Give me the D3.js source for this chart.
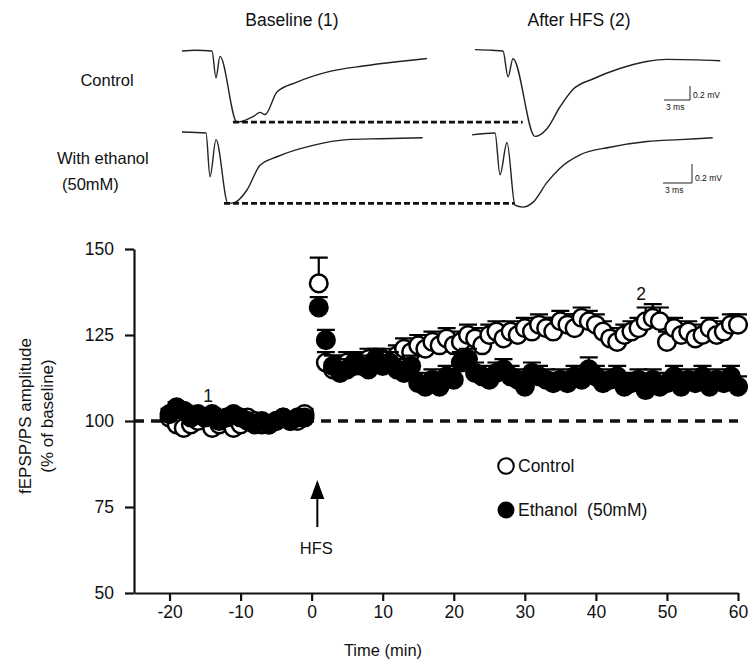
<!DOCTYPE html>
<html>
<head>
<meta charset="utf-8">
<script src="https://cdn.jsdelivr.net/npm/d3@7"></script>
<style>
  html, body { margin: 0; padding: 0; background: #fff; }
  svg { display: block; font-family: "Liberation Sans", Arial, sans-serif; }
</style>
</head>
<body>
<div id="chart"></div>
<script>
// LTP 时间过程 + 代表性记录

// 时间点 (min)
const baselineTimes = d3.range(-20, 0);
const postTimes = d3.range(1, 61);

// 对照组 (空心) - 幅值 % baseline
const controlBase = [101, 99, 98, 99, 100, 101, 98, 99, 100, 98, 99, 101, 100, 99, 99, 100, 101, 100, 100, 102];
const controlPost = [140, 117, 115, 116, 117, 116, 117, 118, 117, 118,
                     117, 119, 121, 120, 122, 121, 123, 122, 124, 122,
                     123, 125, 124, 122, 125, 126, 124, 126, 125, 127,
                     126, 128, 127, 126, 129, 128, 127, 130, 129, 128,
                     126, 124, 123, 125, 126, 127, 129, 130, 129, 123,
                     127, 125, 126, 124, 125, 127, 125, 126, 128, 128];
const controlErr = [7.5, 3, 3, 3, 3, 3, 3, 3, 3, 3,
                    3, 3, 3, 3, 3, 3, 3, 3, 3, 3,
                    3, 3, 3, 3, 3, 3, 3, 3, 3, 3,
                    3, 3, 3, 4, 3, 3, 4, 3, 3, 3,
                    3, 3, 3, 3, 3, 3, 4, 4, 4, 3,
                    3, 3, 3, 3, 3, 3, 3, 3, 3, 3];

// 乙醇组 (实心)
const ethanolBase = [102, 104, 103, 101, 102, 101, 102, 100, 101, 102, 101, 100, 99, 100, 99, 100, 101, 100, 101, 101];
const ethanolPost = [133, 123.5, 116, 114, 115, 117, 116, 115, 118, 116,
                     117, 115, 114, 116, 111, 110, 112, 110, 113, 112,
                     117, 118, 114, 113, 112, 114, 115, 113, 112, 110,
                     114, 113, 112, 111, 112, 111, 113, 112, 115, 113,
                     111, 112, 113, 110, 111, 112, 109, 112, 110, 111,
                     113, 110, 112, 111, 113, 110, 112, 111, 113, 110];
const ethanolErr = [3, 3, 3, 3, 3, 3, 3, 3, 3, 3,
                    3, 3, 3, 3, 3, 3, 3, 3, 3, 3,
                    3, 3, 3, 3, 3, 3, 3, 3, 3, 3,
                    3, 3, 3, 3, 3, 3, 3, 3, 3.5, 3,
                    3, 3, 3, 3, 3, 3, 3, 3, 3, 3,
                    3, 3, 3, 3, 3, 3, 3, 3, 3, 3];

const xTicks = [-20, -10, 0, 10, 20, 30, 40, 50, 60];
const yTicks = [50, 75, 100, 125, 150];

// 代表性记录 [ms, mV]
const ctrlBaseTrace = [[0, 0], [1.5, 0.01], [3.46, 0], [3.92, -0.385], [4.38, -0.077], [6.34, -1.015],
  [8.3, -0.93], [9.0, -0.877], [9.57, -0.908], [10.96, -0.585], [13.26, -0.446], [17.07, -0.292],
  [20.88, -0.215], [24.8, -0.154], [28.26, -0.108]];
const ctrlHfsTrace = [[0, 0.02], [2, 0.01], [3.23, 0], [3.81, -0.37], [4.38, -0.11], [6.92, -1.22],
  [8.3, -1.11], [9.8, -0.8], [11.3, -0.55], [13.6, -0.4], [16.7, -0.25], [19.8, -0.15],
  [22.1, -0.12], [28.3, -0.14]];
const ethBaseTrace = [[0, 0.01], [2.48, 0], [2.9, -0.46], [3.52, -0.07], [4.76, -0.74], [5.48, -0.73],
  [6.72, -0.6], [8.07, -0.34], [9.82, -0.25], [13.55, -0.13], [17.06, -0.07], [20.5, -0.06], [24.9, -0.05]];
const ethHfsTrace = [[0, -0.02], [2.38, 0], [2.9, -0.44], [3.62, -0.1], [4.45, -0.76], [5.27, -0.78],
  [6.3, -0.73], [7.76, -0.52], [9.1, -0.37], [11.17, -0.23], [14.27, -0.15], [18.1, -0.09],
  [21.5, -0.07], [24.9, -0.05]];

const W = 748, H = 664;
const svg = d3.select('#chart').append('svg')
    .attr('width', W)
    .attr('height', H);

// ---------- 上部: 记录 ----------
const txt = (x, y, s, size, anchor) => svg.append('text')
    .attr('x', x).attr('y', y)
    .attr('font-size', size)
    .attr('text-anchor', anchor || 'middle')
    .attr('fill', '#111')
    .text(s);

txt(292, 26, 'Baseline (1)', 17.5);
txt(579, 26, 'After HFS (2)', 17.5);
txt(107, 86, 'Control', 16.5);
txt(57, 164, 'With ethanol', 16.5, 'start');
txt(62, 190, '(50mM)', 16.5, 'start');

// 每行的比例 (px/ms, px/mV 与标尺一致)
const rows = [
    { y0: 51, pxMs: 26 / 3, pxMv: 14 / 0.2, traces: [ctrlBaseTrace, ctrlHfsTrace], starts: [182, 475],
      dashEnd: 5.5, bar: { x: 690, y: 100 } },
    { y0: 133, pxMs: 29 / 3, pxMv: 19 / 0.2, traces: [ethBaseTrace, ethHfsTrace], starts: [182, 472],
      dashEnd: 4.4, bar: { x: 692, y: 183 } }
];

rows.forEach(r => {
    const scales = r.starts.map(x0 => ({
        x: d3.scaleLinear().domain([0, 1]).range([x0, x0 + r.pxMs]),
        y: d3.scaleLinear().domain([0, 1]).range([r.y0, r.y0 - r.pxMv])
    }));
    r.traces.forEach((tr, i) => {
        const sx = scales[i].x, sy = scales[i].y;
        svg.append('path')
            .datum(tr)
            .attr('fill', 'none')
            .attr('stroke', '#222')
            .attr('stroke-width', 1.4)
            .attr('d', d3.line().x(d => sx(d[0])).y(d => sy(d[1])).curve(d3.curveMonotoneX));
    });
    // 虚线: 基线记录最低点 -> HFS 后记录
    const minPt = d3.least(r.traces[0], d => d[1]);
    svg.append('line')
        .attr('x1', scales[0].x(minPt[0]) - 4)
        .attr('x2', scales[1].x(r.dashEnd))
        .attr('y1', scales[0].y(minPt[1]))
        .attr('y2', scales[0].y(minPt[1]))
        .attr('stroke', '#111')
        .attr('stroke-width', 2.8)
        .attr('stroke-dasharray', '6,3');
    // 标尺 0.2 mV / 3 ms
    const bx = r.bar.x, by = r.bar.y;
    const hLen = 3 * r.pxMs, vLen = 0.2 * r.pxMv;
    svg.append('path')
        .attr('d', `M${bx - hLen},${by}H${bx}V${by - vLen}`)
        .attr('fill', 'none')
        .attr('stroke', '#222')
        .attr('stroke-width', 1);
    txt(bx + 3, by - 2, '0.2 mV', 8.5, 'start');
    txt(bx - hLen + 2, by + 10, '3 ms', 8.5, 'start');
});

// ---------- 下部: 时间过程 ----------
const x = d3.scaleLinear().domain([-25, 60]).range([134, 738]);
const y = d3.scaleLinear().domain([50, 150]).range([593, 249]);

const gx = svg.append('g')
    .attr('transform', `translate(0,${y(50)})`)
    .call(d3.axisBottom(x).tickValues(xTicks).tickFormat(d => String(d))
        .tickSize(8).tickPadding(5).tickSizeOuter(0));
const gy = svg.append('g')
    .attr('transform', `translate(${x(-25)},0)`)
    .call(d3.axisLeft(y).tickValues(yTicks).tickFormat(d => String(d))
        .tickSize(9).tickPadding(11).tickSizeOuter(0));

[gx, gy].forEach(g => {
    g.select('.domain').attr('stroke', '#111').attr('stroke-width', 2.2);
    g.selectAll('.tick line').attr('stroke', '#111').attr('stroke-width', 2.2);
    g.selectAll('.tick text')
        .attr('font-size', 17.5)
        .attr('fill', '#111')
        .attr('font-family', '"Liberation Sans", Arial, sans-serif');
});

txt(383, 656, 'Time (min)', 16.5);
svg.append('text')
    .attr('transform', 'translate(31,416) rotate(-90)')
    .attr('text-anchor', 'middle')
    .attr('font-size', 17)
    .attr('fill', '#111')
    .text('fEPSP/PS amplitude');
svg.append('text')
    .attr('transform', 'translate(53,416) rotate(-90)')
    .attr('text-anchor', 'middle')
    .attr('font-size', 17)
    .attr('fill', '#111')
    .text('(% of baseline)');

// 100% 参考虚线
svg.append('line')
    .attr('x1', x(-25)).attr('x2', x(60))
    .attr('y1', y(100)).attr('y2', y(100))
    .attr('stroke', '#111')
    .attr('stroke-width', 3.5)
    .attr('stroke-dasharray', '10,7');

// 组装数据
function series(base, post, err) {
    return baselineTimes.map((t, i) => ({ t, v: base[i], e: 1.5 }))
        .concat(postTimes.map((t, i) => ({ t, v: post[i], e: err[i] })));
}
const controlData = series(controlBase, controlPost, controlErr);
const ethanolData = series(ethanolBase, ethanolPost, ethanolErr);

function drawSeries(data, filled) {
    const g = svg.append('g');
    const cap = 9;
    g.selectAll('.err')
        .data(data)
        .enter()
        .append('path')
        .attr('class', 'err')
        .attr('d', d => `M${x(d.t)},${y(d.v)}V${y(d.v + d.e)}M${x(d.t) - cap},${y(d.v + d.e)}H${x(d.t) + cap}`)
        .attr('fill', 'none')
        .attr('stroke', '#000')
        .attr('stroke-width', 2.2);
    g.selectAll('.pt')
        .data(data)
        .enter()
        .append('circle')
        .attr('class', 'pt')
        .attr('cx', d => x(d.t))
        .attr('cy', d => y(d.v))
        .attr('r', 8.8)
        .attr('fill', filled ? '#000' : '#fff')
        .attr('stroke', '#000')
        .attr('stroke-width', 2.5);
}
drawSeries(controlData, false);
drawSeries(ethanolData, true);

// 标注
txt(208, 402, '1', 17.5);
txt(641, 300, '2', 17.5);

// HFS 箭头
const ax = x(0.8);
svg.append('path')
    .attr('d', `M${ax},${497}V${527}`)
    .attr('stroke', '#000')
    .attr('stroke-width', 2);
svg.append('path')
    .attr('d', `M${ax},${480}L${ax - 7},${499}L${ax + 7},${499}Z`)
    .attr('fill', '#000');
txt(ax - 1, 554, 'HFS', 16.5);

// 图例
svg.append('circle').attr('cx', 506).attr('cy', 466).attr('r', 7.8)
    .attr('fill', '#fff').attr('stroke', '#000').attr('stroke-width', 2);
txt(518, 472, 'Control', 17.5, 'start');
svg.append('circle').attr('cx', 506).attr('cy', 510).attr('r', 8.5)
    .attr('fill', '#000');
txt(518, 516, 'Ethanol\u00a0\u00a0(50mM)', 17.5, 'start');
</script>
</body>
</html>
